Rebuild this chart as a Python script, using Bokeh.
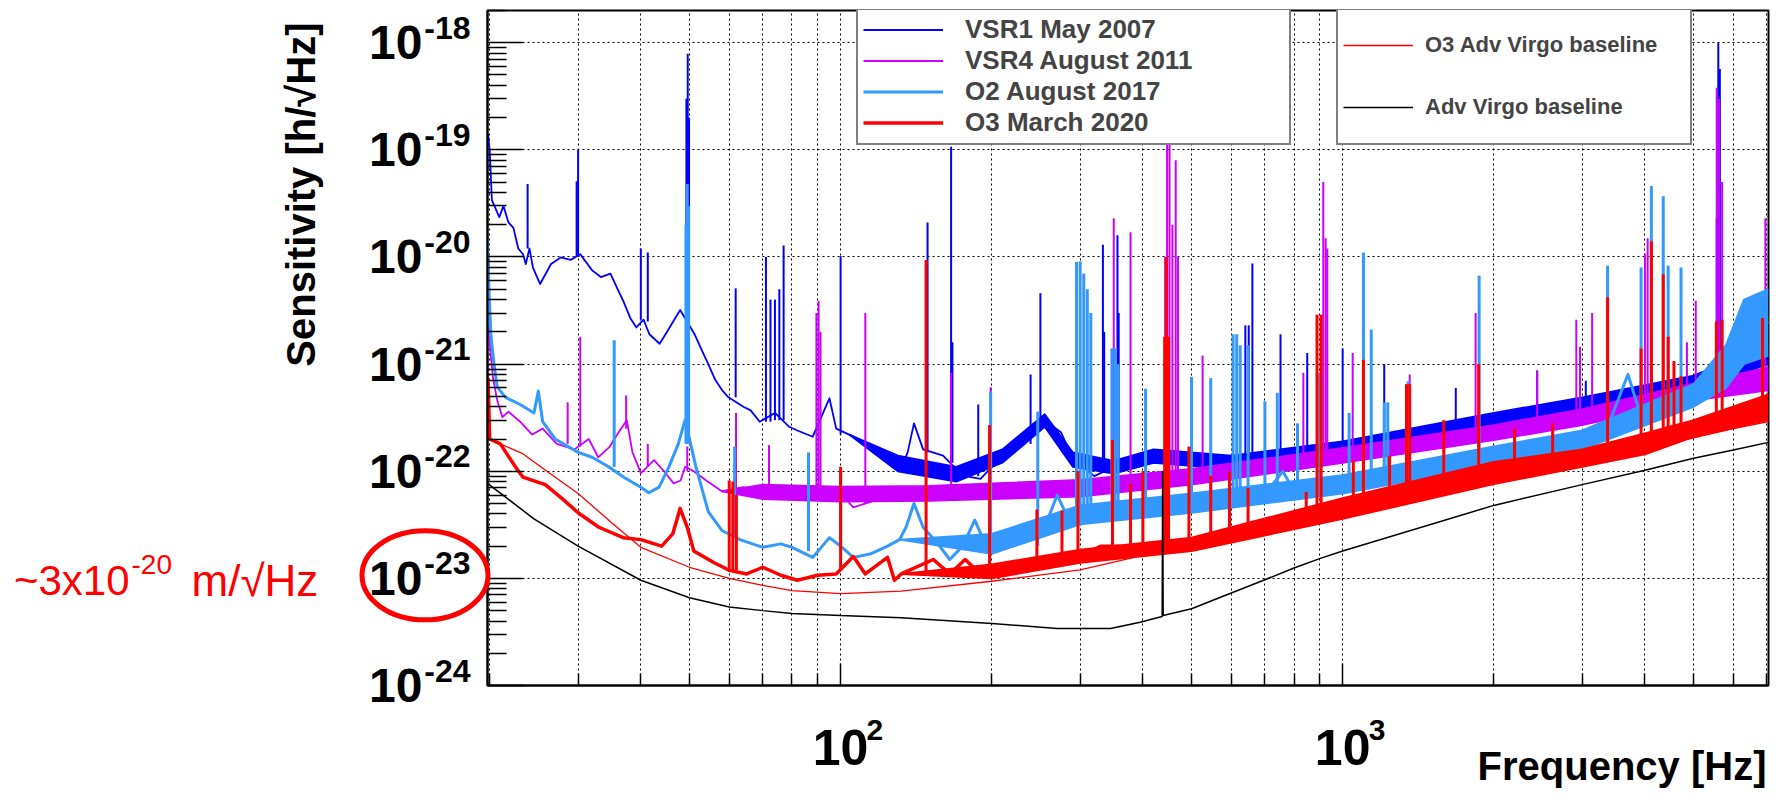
import math
from bokeh.plotting import figure
from bokeh.models import (Range1d, FixedTicker, CustomJSTickFormatter, Legend, LegendItem,
                          ColumnDataSource)
from bokeh.core.properties import value
from bokeh.embed import file_html
from bokeh.resources import INLINE

FONT = "Liberation Sans"

# ---------------- axes ----------------
XMIN, XMAX = 19.8, 7050.0
YMIN, YMAX = 1e-24, 2.0e-18
x_major_ticks = [100, 1000]
x_minor_ticks = [20, 30, 40, 50, 60, 70, 80, 90,
                 200, 300, 400, 500, 600, 700, 800, 900,
                 2000, 3000, 4000, 5000, 6000, 7000]
x_tick_exponents = ["2", "3"]
y_exponents = [-24, -23, -22, -21, -20, -19, -18]
y_minor_mantissas = [2, 3, 4, 5, 6, 7, 8, 9]

# ---------------- VSR1 May 2007 ----------------
vsr1_f = [19.85, 20.0, 20.2, 20.5, 20.9, 21.3, 21.8, 22.3, 22.8, 23.3, 23.6, 24.0, 24.4, 25.2,
          26.5, 27.7, 29.0, 30.3, 32.0, 33.3, 34.8, 35.9, 36.9, 38.1, 39.2, 40.5, 41.6, 43.6,
          44.8, 47.9, 51.2, 52.9, 54.5, 56.3, 58.1, 59.8, 64, 66.2, 69, 74, 79, 82, 88, 95, 98,
          104, 112, 120, 128, 131, 136, 140, 146, 160, 175, 190, 210, 230, 255, 275, 290, 320,
          350, 380, 420, 500, 600, 700, 800, 1000, 1500, 2000, 2500, 3000, 4000, 5000, 6000, 7050]
vsr1_v = [1.4e-19, 1.0e-19, 3.4e-20, 2.9e-20, 2.35e-20, 3.0e-20, 2.1e-20, 1.87e-20, 1.2e-20,
          1.06e-20, 8.6e-21, 1.2e-20, 7.9e-21, 5.6e-21, 8.6e-21, 9.9e-21, 9.4e-21, 1.06e-20,
          7.5e-21, 6.5e-21, 7.0e-21, 5.1e-21, 3.9e-21, 2.7e-21, 2.2e-21, 2.6e-21, 1.9e-21,
          1.55e-21, 1.9e-21, 3.2e-21, 1.9e-21, 1.35e-21, 1.0e-21, 7.1e-22, 5.7e-22, 4.9e-22,
          4.0e-22, 3.7e-22, 2.9e-22, 3.5e-22, 2.6e-22, 2.4e-22, 2.1e-22, 4.8e-22, 2.5e-22,
          2.2e-22, 1.8e-22, 1.5e-22, 1.3e-22, 1.0e-22, 1.5e-22, 2.8e-22, 1.6e-22, 1.4e-22,
          9.1e-23, 8.5e-23, 1.4e-22, 1.9e-22, 3.0e-22, 2.3e-22, 1.3e-22, 9e-23, 1.1e-22,
          1.3e-22, 1.4e-22, 1.2e-22, 1.2e-22, 1.3e-22, 1.4e-22, 1.6e-22, 2.2e-22, 3.0e-22,
          3.8e-22, 4.3e-22, 5.0e-22, 6.5e-22, 9e-22, 1.2e-21]
vsr1_band_f = [104, 130, 170, 210, 255, 290, 350, 420, 600, 1000, 2000, 3000, 5000, 7050]
vsr1_band_lo = [2.2e-22, 1.0e-22, 8e-23, 1.2e-22, 2.6e-22, 1.1e-22, 9.5e-23, 1.2e-22, 1.05e-22,
                1.4e-22, 2.6e-22, 3.7e-22, 5.8e-22, 1.0e-21]
vsr1_band_hi = [2.2e-22, 1.4e-22, 1.1e-22, 1.6e-22, 3.4e-22, 1.5e-22, 1.25e-22, 1.6e-22, 1.4e-22,
                1.9e-22, 3.5e-22, 4.9e-22, 7.8e-22, 1.5e-21]
vsr1_spike_f = [23.8, 29.8, 30.0, 40.0, 41.3, 49.3, 49.6, 49.9, 61.8, 71.0, 72.5, 74.0, 75.5, 77.0,
                100, 149, 166, 167, 188, 239, 250, 333, 335, 356, 358, 640, 650, 661, 752, 850,
                1000, 1210, 1680, 2440, 3050, 5560, 5600, 5640]
vsr1_spike_lo = [1.2e-20, 1.0e-20, 1.0e-20, 2.6e-21, 2.5e-21, 2.5e-21, 2.5e-21, 2.5e-21, 4.9e-22,
                 2.9e-22, 2.9e-22, 3e-22, 3e-22, 3e-22, 2.2e-22, 1.5e-22, 1.2e-22, 1.2e-22, 9e-23,
                 1.8e-22, 2.5e-22, 1e-22, 1e-22, 1.2e-22, 1.2e-22, 1.3e-22, 1.3e-22, 1.3e-22,
                 1.4e-22, 1.5e-22, 1.7e-22, 1.9e-22, 2.5e-22, 3.5e-22, 4.3e-22, 7e-22, 7e-22, 7e-22]
vsr1_spike_hi = [4.8e-20, 5.1e-20, 1.0e-19, 1.2e-20, 1.1e-20, 3e-19, 7.9e-19, 2e-19, 5.1e-21,
                 1.0e-20, 4e-21, 4e-21, 5e-21, 1.28e-20, 1.02e-20, 2.1e-20, 1.07e-19, 1.6e-21,
                 4.2e-22, 8e-22, 4.6e-21, 1.3e-20, 2e-21, 1.6e-20, 3e-21, 2.3e-21, 2.3e-21, 8.7e-21,
                 1.9e-21, 1.27e-21, 1.4e-21, 1e-21, 6e-22, 8.7e-22, 7e-22, 2.3e-20, 1.0e-18, 5.7e-19]

# ---------------- VSR4 August 2011 ----------------
vsr4_f = [19.9, 20.1, 20.3, 20.7, 21.2, 21.8, 23.0, 24.3, 25.5, 27.2, 29.5, 31.5, 32.9, 34.7,
          35.9, 37.5, 38.5, 40, 42.5, 44.5, 46.5, 48, 49.0, 51, 54, 58, 64, 70, 76, 80, 86, 95,
          100, 106, 118, 125, 132, 150, 200, 300, 400, 500, 700, 1000, 1500, 2000, 3000, 4000,
          5000, 6000, 7050]
vsr4_v = [2.2e-21, 1.2e-21, 7.5e-22, 4.6e-22, 3.2e-22, 3.6e-22, 2.9e-22, 2.2e-22, 2.5e-22,
          1.8e-22, 1.6e-22, 2.0e-22, 1.35e-22, 1.7e-22, 2.2e-22, 3.0e-22, 1.5e-22, 9.6e-23,
          1.27e-22, 1.0e-22, 7.7e-23, 8.2e-23, 1.1e-22, 1.0e-22, 8.2e-23, 6.5e-23, 7.1e-23,
          6.3e-23, 5.7e-23, 6.2e-23, 6.2e-23, 6.3e-23, 6.2e-23, 4.6e-23, 5.4e-23, 7.1e-23,
          5.7e-23, 6.3e-23, 6.5e-23, 7.0e-23, 7.5e-23, 9e-23, 1.0e-22, 1.4e-22, 1.9e-22,
          2.3e-22, 3.2e-22, 4.2e-22, 5.5e-22, 6.5e-22, 7.5e-22]
vsr4_band_f = [58, 70, 100, 150, 300, 500, 1000, 2000, 3000, 5000, 7050]
vsr4_band_lo = [6.5e-23, 5.5e-23, 5.2e-23, 5.3e-23, 5.8e-23, 7.5e-23, 1.2e-22, 1.95e-22, 2.7e-22,
                4.6e-22, 5.7e-22]
vsr4_band_hi = [6.5e-23, 7.5e-23, 7.2e-23, 7.3e-23, 8.3e-23, 1.05e-22, 1.65e-22, 2.7e-22, 3.8e-22,
                6.6e-22, 9.3e-22]
vsr4_spike_f = [28.6, 30.3, 37.4, 41.3, 49.5, 61.9, 72.0, 89.5, 90.4, 91.2, 112, 166, 199, 350,
                378, 443, 447, 452, 458, 465, 470, 526, 835, 915, 925, 932, 1047, 1360, 1840,
                2440, 2920, 2970, 3140, 4000, 4050, 4850, 5050, 5560, 5620, 5700, 6950]
vsr4_spike_lo = [1.8e-22, 1.7e-22, 2.5e-22, 1.1e-22, 1.0e-22, 6.5e-23, 6.3e-23, 6.2e-23, 6.2e-23,
                 6.2e-23, 5e-23, 6.3e-23, 6.5e-23, 7e-23, 7e-23, 8e-23, 8e-23, 8e-23, 8e-23,
                 8e-23, 8e-23, 9e-23, 1.2e-22, 1.2e-22, 1.2e-22, 1.2e-22, 1.4e-22, 1.8e-22,
                 2.1e-22, 2.6e-22, 3e-22, 3e-22, 3.1e-22, 3.8e-22, 3.8e-22, 5e-22, 5e-22,
                 5.5e-22, 5.5e-22, 5.5e-22, 7.5e-22]
vsr4_spike_hi = [4.4e-22, 1.8e-21, 5.1e-22, 1.8e-22, 1.7e-22, 3.5e-22, 1.75e-22, 3e-21, 3.9e-21,
                 2e-21, 3.0e-21, 8.3e-22, 6.1e-22, 2.3e-20, 1.7e-20, 1e-20, 2.4e-19, 1.5e-19,
                 2e-20, 8e-20, 1e-20, 1.2e-21, 8.3e-22, 5e-20, 1.5e-20, 1.2e-20, 1.27e-21,
                 8e-22, 3e-21, 8.7e-22, 2.6e-21, 1.45e-21, 3e-21, 1.07e-20, 1.5e-20, 1.6e-21,
                 3.9e-21, 3.8e-19, 3e-19, 5e-20, 2.3e-20]

# ---------------- O2 August 2017 ----------------
o2_f = [19.8, 19.9, 20.1, 20.4, 20.7, 21.5, 23.0, 24.5, 25.0, 25.5, 27.0, 30, 32, 34.5, 37, 40,
        41.5, 43.5, 45.5, 47.5, 49.0, 51.5, 54.5, 58, 63, 70, 76, 80, 88, 95, 100, 106, 115,
        124, 131, 135, 140, 146, 155, 165, 175, 185, 195, 220, 255, 270, 285, 330, 370, 420,
        500, 600, 700, 760, 800, 1000, 1300, 1540, 1800, 2000, 2500, 3000, 3300, 3700, 3950,
        4500, 5000, 5500, 5900, 6300, 6700, 7050]
o2_v = [1.5e-20, 6e-21, 1.9e-21, 1.0e-21, 6.1e-22, 4.9e-22, 4.2e-22, 3.5e-22, 5.6e-22, 2.9e-22,
        2.0e-22, 1.5e-22, 1.35e-22, 1.1e-22, 8.8e-23, 7.1e-23, 6.3e-23, 7.1e-23, 1.1e-22,
        1.8e-22, 3e-22, 1.1e-22, 4.2e-23, 2.8e-23, 2.3e-23, 1.95e-23, 2.1e-23, 1.95e-23,
        1.57e-23, 2.4e-23, 2.0e-23, 1.57e-23, 1.7e-23, 2.0e-23, 2.3e-23, 3.0e-23, 5e-23,
        3e-23, 2.2e-23, 1.5e-23, 2.0e-23, 3.5e-23, 2.0e-23, 2.0e-23, 3e-23, 6e-23, 3.5e-23,
        4e-23, 4.5e-23, 4.5e-23, 5e-23, 5.5e-23, 6.0e-23, 1.0e-22, 6.5e-23, 7.5e-23, 9e-23,
        1.2e-22, 1.3e-22, 1.4e-22, 1.6e-22, 1.9e-22, 2e-22, 8e-22, 3e-22, 3.5e-22, 5e-22,
        6e-22, 1.5e-21, 2.5e-21, 2e-21, 2.5e-21]
o2_band_f = [131, 200, 300, 500, 1000, 2000, 3000, 5000, 5800, 6300, 7050]
o2_band_lo = [2.3e-23, 1.7e-23, 3.2e-23, 4.1e-23, 6.2e-23, 1.15e-22, 1.6e-22, 4e-22, 6e-22,
              1e-21, 1.2e-21]
o2_band_hi = [2.3e-23, 2.6e-23, 4.8e-23, 6.2e-23, 9.2e-23, 1.7e-22, 2.4e-22, 6.5e-22, 1.5e-21,
              4e-21, 5e-21]
o2_spike_f = [35.4, 49.2, 49.5, 49.8, 61.5, 86.3, 100, 199, 247, 295, 300, 305, 310, 315, 347,
              352, 357, 405, 500, 546, 605, 615, 625, 648, 700, 741, 813, 900, 1030, 1100, 1140,
              1210, 1230, 1350, 1870, 3370, 3930, 4120, 4350, 4450, 4720]
o2_spike_lo = [1.1e-22, 1.8e-22, 1.8e-22, 1.8e-22, 2.5e-23, 1.8e-23, 2e-23, 2e-23, 2e-23, 4e-23,
               4e-23, 4e-23, 4e-23, 4e-23, 5e-23, 5e-23, 5e-23, 5e-23, 5e-23, 5.5e-23, 5.5e-23,
               5.5e-23, 5.5e-23, 6e-23, 6e-23, 6e-23, 6.5e-23, 7e-23, 7e-23, 8e-23, 8e-23,
               9e-23, 9e-23, 1e-22, 1.3e-22, 2.3e-22, 3e-22, 3e-22, 3.2e-22, 3.3e-22, 3.5e-22]
o2_spike_hi = [1.67e-21, 2e-20, 4.8e-20, 3e-20, 1.7e-22, 1.5e-22, 1.0e-22, 5.5e-22, 3.6e-22,
               9e-21, 9.1e-21, 7e-21, 5e-21, 3e-21, 1.4e-21, 1.4e-21, 1.0e-21, 5.9e-22, 7.6e-22,
               7.4e-22, 1.9e-21, 1.9e-21, 1.5e-21, 1.5e-21, 4.5e-22, 5.4e-22, 2.8e-22, 8.3e-22,
               3.5e-22, 1.1e-20, 2.1e-21, 4.4e-22, 4.4e-22, 6.9e-22, 6.7e-21, 8.3e-21, 8e-21,
               4.6e-20, 3.7e-20, 8.3e-21, 8e-21]

# ---------------- O3 March 2020 ----------------
o3_f = [19.85, 20.0, 21.0, 22.5, 23.3, 25.8, 27.7, 30, 33, 36.9, 40, 44, 46.3, 47.9, 49.5, 51,
        56, 60, 65, 70, 76, 82, 90, 98, 106, 112, 124, 128, 132, 153, 165, 177, 190, 220, 250,
        280, 300, 330, 360, 400, 440, 520, 600, 800, 1000, 1500, 2000, 3000, 4000, 5000, 6000,
        7050]
o3_v = [7.4e-22, 2.0e-22, 1.8e-22, 1.1e-22, 8.8e-23, 7.5e-23, 5.7e-23, 4.1e-23, 3.0e-23,
        2.4e-23, 2.3e-23, 2.0e-23, 2.6e-23, 4.5e-23, 3.0e-23, 1.8e-23, 1.4e-23, 1.19e-23,
        1.1e-23, 1.27e-23, 1.07e-23, 9.6e-24, 1.07e-23, 1.1e-23, 1.6e-23, 1.1e-23, 1.57e-23,
        9.6e-24, 1.1e-23, 1.5e-23, 1.1e-23, 1.5e-23, 1.1e-23, 1.2e-23, 1.3e-23, 1.4e-23,
        1.6e-23, 2.0e-23, 2.0e-23, 1.8e-23, 2.0e-23, 2.1e-23, 2.6e-23, 3.4e-23, 4.4e-23,
        6.5e-23, 9.5e-23, 1.35e-22, 1.8e-22, 2.5e-22, 3.1e-22, 4e-22]
o3_band_f = [132, 200, 300, 500, 1000, 2000, 3000, 4000, 5000, 7050]
o3_band_lo = [1.1e-23, 1.0e-23, 1.4e-23, 1.8e-23, 3.6e-23, 7.6e-23, 1.1e-22, 1.44e-22, 2.1e-22, 3.0e-22]
o3_band_hi = [1.1e-23, 1.35e-23, 1.85e-23, 2.4e-23, 5.6e-23, 1.22e-22, 1.6e-22, 2.25e-22, 3.0e-22, 5.2e-22]
o3_spike_f = [60.0, 61.0, 62.0, 100, 148, 198, 246, 276, 297, 348, 378, 400, 442, 446, 450, 494,
              546, 595, 648, 846, 889, 906, 1050, 1100, 1240, 1340, 1360, 1590, 1866, 2200, 2620,
              3370, 3930, 4120, 4350, 4450, 4570, 4720, 5550, 5700, 6860]
o3_spike_lo = [1.2e-23, 1.2e-23, 1.2e-23, 1.2e-23, 1.1e-23, 1.1e-23, 1.3e-23, 1.4e-23, 1.5e-23,
               2e-23, 2e-23, 1.8e-23, 2e-23, 2e-23, 2e-23, 2.1e-23, 2.2e-23, 2.5e-23, 2.7e-23,
               3.5e-23, 3.6e-23, 3.6e-23, 4.2e-23, 4.5e-23, 5e-23, 5.5e-23, 5.5e-23, 6.5e-23,
               8e-23, 1e-22, 1.2e-22, 1.5e-22, 1.7e-22, 1.8e-22, 1.9e-22, 2e-22, 2e-22, 2.1e-22,
               2.8e-22, 2.9e-22, 3.8e-22]
o3_spike_hi = [8.2e-23, 8e-23, 6e-23, 1.1e-22, 9.4e-21, 2.7e-22, 4.4e-23, 4.3e-23, 1e-22,
               1.95e-22, 7.6e-23, 1.0e-22, 1.8e-21, 1.0e-20, 1.8e-21, 1.7e-22, 9.1e-23, 1.0e-22,
               7e-23, 6.4e-23, 2.9e-21, 2.9e-21, 1.26e-22, 1.1e-21, 1.4e-22, 6.5e-22, 6.5e-22,
               3e-22, 1e-21, 2.5e-22, 2.8e-22, 4.2e-21, 1.4e-21, 1.4e-20, 6.9e-21, 1.8e-21,
               1.07e-21, 7.7e-22, 2.5e-21, 2.6e-21, 2.7e-21]

# ---------------- design curves ----------------
o3base_f = [19.85, 21, 23.2, 26, 30, 35, 40, 50, 60, 70, 80, 100, 132, 200, 300, 400, 500, 600,
            700, 800, 900, 1000, 2000, 3000, 4000, 5000, 6000, 7050]
o3base_v = [2.0e-22, 1.8e-22, 1.47e-22, 1.0e-22, 6.2e-23, 3.3e-23, 1.95e-23, 1.27e-23, 1.0e-23,
            8.6e-24, 7.7e-24, 7.2e-24, 7.6e-24, 9.4e-24, 1.2e-23, 1.64e-23, 2.0e-23, 2.4e-23,
            2.8e-23, 3.2e-23, 3.6e-23, 4.0e-23, 8e-23, 1.2e-22, 1.6e-22, 2.05e-22, 2.5e-22, 2.9e-22]
advbase_f = [19.8, 24.5, 30, 40, 50, 60, 70, 80, 100, 132, 200, 270, 345, 395, 437, 438, 439,
             500, 600, 700, 800, 900, 1000, 2000, 3000, 4000, 5000, 6000, 7050]
advbase_v = [7.7e-23, 3.6e-23, 2.0e-23, 9.6e-24, 6.6e-24, 5.4e-24, 5.0e-24, 4.7e-24, 4.5e-24,
             4.3e-24, 3.8e-24, 3.4e-24, 3.4e-24, 3.9e-24, 4.4e-24, 1e-22, 4.5e-24, 5.2e-24,
             7.3e-24, 9.7e-24, 1.25e-23, 1.53e-23, 1.8e-23, 4.8e-23, 7.5e-23, 1.02e-22,
             1.32e-22, 1.58e-22, 1.86e-22]

# ---------------- figure ----------------
FRAME_W, FRAME_H = 1281, 675
p = figure(x_axis_type="log", y_axis_type="log",
           x_range=Range1d(XMIN, XMAX), y_range=Range1d(YMIN, YMAX),
           frame_width=FRAME_W, frame_height=FRAME_H,
           min_border_left=487, min_border_right=9, min_border_top=10, min_border_bottom=113,
           output_backend="svg", toolbar_location=None, title=None)
p.background_fill_color = "white"
p.border_fill_color = "white"
p.outline_line_color = "black"
p.outline_line_width = 2

y_major = [10.0 ** e for e in y_exponents]
y_minor = [m * 10.0 ** e for e in y_exponents[:-1] for m in y_minor_mantissas] + [2 * 10.0 ** y_exponents[-1]]
xt = FixedTicker(ticks=x_major_ticks, minor_ticks=x_minor_ticks)
yt = FixedTicker(ticks=y_major, minor_ticks=y_minor)

xa = p.xaxis[0]
ya = p.yaxis[0]
xa.ticker = xt
ya.ticker = yt
for ax in (xa, ya):
    ax.formatter = CustomJSTickFormatter(code="return '10';")
    ax.axis_line_color = "black"
    ax.axis_line_width = 2
    ax.major_tick_line_color = "black"
    ax.minor_tick_line_color = "black"
    ax.major_tick_line_width = 1.5
    ax.minor_tick_line_width = 1.5
    ax.major_tick_out = 0
    ax.minor_tick_out = 0
    ax.major_label_text_font = FONT
    ax.major_label_text_font_style = "bold"
    ax.major_label_text_color = "black"
ya.major_tick_in = 36
ya.minor_tick_in = 19
ya.major_label_text_font_size = "48px"
ya.major_label_standoff = 65
xa.major_tick_in = 22
xa.minor_tick_in = 12
xa.major_label_text_font_size = "50px"
xa.major_label_standoff = 44

p.xgrid.ticker = xt
p.ygrid.ticker = yt
for g in (p.xgrid[0], p.ygrid[0]):
    g.grid_line_color = "black"
    g.grid_line_dash = "2 3"
    g.grid_line_width = 1
p.xgrid.minor_grid_line_color = "black"
p.xgrid.minor_grid_line_dash = "2 3"
p.xgrid.minor_grid_line_width = 1


def add_series(f, v, bf, blo, bhi, sf, slo, shi, color, lw, spike_lw):
    edge = min(lw, 2.0)
    if bf:
        p.varea(x=bf, y1=blo, y2=bhi, fill_color=color)
        p.line(bf, blo, line_color=color, line_width=edge, line_join="round")
        p.line(bf, bhi, line_color=color, line_width=edge, line_join="round")
    if sf:
        p.segment(x0=sf, y0=slo, x1=sf, y1=shi, line_color=color, line_width=spike_lw)
    return p.line(f, v, line_color=color, line_width=lw, line_join="round")


C_VSR1, C_VSR4, C_O2, C_O3 = "#0000ff", "#cc00ff", "#3399ff", "#ff0000"
r_vsr1 = add_series(vsr1_f, vsr1_v, vsr1_band_f, vsr1_band_lo, vsr1_band_hi,
                    vsr1_spike_f, vsr1_spike_lo, vsr1_spike_hi, C_VSR1, 1.8, 2)
r_vsr4 = add_series(vsr4_f, vsr4_v, vsr4_band_f, vsr4_band_lo, vsr4_band_hi,
                    vsr4_spike_f, vsr4_spike_lo, vsr4_spike_hi, C_VSR4, 1.8, 2)
r_o2 = add_series(o2_f, o2_v, o2_band_f, o2_band_lo, o2_band_hi,
                  o2_spike_f, o2_spike_lo, o2_spike_hi, C_O2, 3, 3)
r_o3 = add_series(o3_f, o3_v, o3_band_f, o3_band_lo, o3_band_hi,
                  o3_spike_f, o3_spike_lo, o3_spike_hi, C_O3, 3.5, 3)
r_o3b = p.line(o3base_f, o3base_v, line_color="#ff0000", line_width=1.3)
r_adv = p.line(advbase_f, advbase_v, line_color="black", line_width=1.5)

# ---------------- legends ----------------
leg1 = Legend(items=[LegendItem(label="VSR1 May 2007", renderers=[r_vsr1]),
                     LegendItem(label="VSR4 August 2011", renderers=[r_vsr4]),
                     LegendItem(label="O2 August 2017", renderers=[r_o2]),
                     LegendItem(label="O3 March 2020", renderers=[r_o3])],
              location=(369, 540), orientation="vertical", padding=5, spacing=0, margin=0,
              glyph_width=80, glyph_height=31, label_height=31, label_width=319, label_standoff=22,
              label_text_font=FONT, label_text_font_style="bold", label_text_font_size="26px",
              border_line_color="black", border_line_width=2,
              background_fill_color="white", background_fill_alpha=1.0)
leg2 = Legend(items=[LegendItem(label="O3 Adv Virgo baseline", renderers=[r_o3b]),
                     LegendItem(label="Adv Virgo baseline", renderers=[r_adv])],
              location=(849, 540), orientation="vertical", padding=5, spacing=0, margin=0,
              glyph_width=70, glyph_height=62, label_height=62, label_width=260, label_standoff=12,
              label_text_font=FONT, label_text_font_style="bold", label_text_font_size="22px",
              border_line_color="black", border_line_width=2,
              background_fill_color="white", background_fill_alpha=1.0)
p.add_layout(leg1)
p.add_layout(leg2)

# ---------------- texts outside the frame (overlay-level glyphs are not clipped) ----------------
yexp_src = ColumnDataSource(dict(x=[XMIN] * len(y_exponents), y=y_major,
                                 t=[str(e) for e in y_exponents]))
p.text(x="x", y="y", text="t", source=yexp_src, x_offset=-17, y_offset=-15,
       text_align="right", text_baseline="middle", text_font=value(FONT),
       text_font_style="bold", text_font_size=value("32px"), text_color="black", level="overlay")
xexp_src = ColumnDataSource(dict(x=x_major_ticks, y=[YMIN] * len(x_major_ticks), t=x_tick_exponents))
p.text(x="x", y="y", text="t", source=xexp_src, x_offset=26, y_offset=44,
       text_align="left", text_baseline="middle", text_font=value(FONT),
       text_font_style="bold", text_font_size=value("30px"), text_color="black", level="overlay")

p.text(x=[XMAX], y=[YMIN], text=["Frequency [Hz]"], x_offset=-2, y_offset=80,
       text_align="right", text_baseline="middle", text_font=value(FONT),
       text_font_style="bold", text_font_size=value("40px"), text_color="black", level="overlay")
p.text(x=[XMIN], y=[YMAX], text=["Sensitivity [h/\u221aHz]"], x_offset=-187, y_offset=12,
       angle=math.pi / 2, text_align="right", text_baseline="middle", text_font=value(FONT),
       text_font_style="bold", text_font_size=value("40px"), text_color="black", level="overlay")

# ---------------- red annotation ----------------
px_dec_x = FRAME_W / (math.log10(XMAX) - math.log10(XMIN))
px_dec_y = FRAME_H / (math.log10(YMAX) - math.log10(YMIN))
ell_x = 10 ** (math.log10(XMIN) - 62.5 / px_dec_x)
ell_y = 1e-23 * 10 ** (3 / px_dec_y)
p.ellipse(x=[ell_x], y=[ell_y], width=126, height=89, width_units="screen",
          height_units="screen", fill_color=None, line_color="red", line_width=5, level="overlay")
p.text(x=[XMIN], y=[1e-23], text=["~3x10"], x_offset=-358, y_offset=2,
       text_align="right", text_baseline="middle", text_font=value(FONT),
       text_font_size=value("42px"), text_color="red", level="overlay")
p.text(x=[XMIN], y=[1e-23], text=["-20"], x_offset=-356, y_offset=-14,
       text_align="left", text_baseline="middle", text_font=value(FONT),
       text_font_size=value("28px"), text_color="red", level="overlay")
p.text(x=[XMIN], y=[1e-23], text=["m/\u221aHz"], x_offset=-296, y_offset=2,
       text_align="left", text_baseline="middle", text_font=value(FONT),
       text_font_size=value("44px"), text_color="red", level="overlay")

open("out.html", "w").write(file_html(p, INLINE))
